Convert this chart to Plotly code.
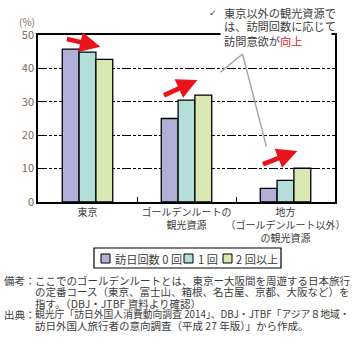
import plotly.graph_objects as go

# Share of visitors wanting to visit, by number of previous visits to Japan (%)
categories = ["東京", "ゴールデンルートの<br>観光資源", "地方<br>（ゴールデンルート以外）<br>の観光資源"]
series_names = ["訪日回数 0 回", "1 回", "2 回以上"]
visits_0 = [45.8, 25.0, 4.1]
visits_1 = [44.9, 30.5, 6.5]
visits_2plus = [42.7, 32.0, 10.1]
series_colors = ["#b1afd7", "#b3ddd8", "#d8e8b0"]
y_ticks = [0, 10, 20, 30, 40, 50]

W, H = 358, 346
L, R, T, B = 38, 23, 35, 144
PW, PH = W - L - R, H - T - B

def px(x):
    return (x - L) / PW

def py(y):
    return (H - B - y) / PH

FONT = "Noto Sans CJK JP"
TXT = "#3c3c3c"
TICK = "#7d6c5c"
RED = "#e8131c"

fig = go.Figure()
for name, vals, col in zip(series_names, [visits_0, visits_1, visits_2plus], series_colors):
    fig.add_trace(go.Bar(
        x=categories, y=vals, name=name,
        marker=dict(color=col, line=dict(color="black", width=1.3)),
    ))

annotations = []
shapes = []

def label(x, y, text, size, color=TXT, anchor="left", family=FONT):
    annotations.append(dict(
        x=px(x), y=py(y), xref="paper", yref="paper", xanchor=anchor, yanchor="middle",
        text=text, showarrow=False, font=dict(family=family, size=size, color=color),
    ))

# red trend arrows above each group: head position (category index, value) and tail offset in px
arrows = [
    (0.13, 46.5, -35, -8),
    (1.11, 36.5, -35, 16),
    (2.12, 15.3, -36, 14),
]
for x1, y1, dx, dy in arrows:
    annotations.append(dict(
        x=x1, y=y1, ax=dx, ay=dy, xref="x", yref="y",
        text="", showarrow=True, arrowhead=2, arrowsize=0.85, arrowwidth=4.8,
        arrowcolor=RED,
    ))

# callout: white patch over the frame, then the three text lines
annotations.append(dict(
    x=px(220), y=py(28), xref="paper", yref="paper", xanchor="left", yanchor="top",
    text=" ", width=110, height=22, bgcolor="white", borderpad=0, showarrow=False,
))
label(222, 13, "東京以外の観光資源で", 11.2)
label(222, 26, "は、訪問回数に応じて", 11.2)
label(222, 41, "訪問意欲が<span style='color:%s'>向上</span>" % RED, 11.2)
label(219, 13, "✓", 9, family="DejaVu Sans", anchor="right")
shapes.append(dict(type="line", xref="paper", yref="paper",
                   x0=px(276), x1=px(303), y0=py(48.5), y1=py(48.5),
                   line=dict(color=RED, width=1.2)))

# percent label
label(37, 22, "(%)", 10, color=TICK, anchor="right")

# footnotes
note_heads = [(280, "備考："), (314, "出典：")]
note_lines = [
    (280, "ここでのゴールデンルートとは、東京ー大阪間を周遊する日本旅行", 10.5),
    (291.5, "の定番コース（東京、富士山、箱根、名古屋、京都、大阪など）を", 10.5),
    (303, "指す。（DBJ・JTBF 資料より確認）", 10.5),
    (314, "観光庁「訪日外国人消費動向調査 2014」、DBJ・JTBF「アジア８地域・", 9.8),
    (325.5, "訪日外国人旅行者の意向調査（平成 27 年版）」から作成。", 10.5),
]
for y, t in note_heads:
    label(2, y, t, 10.5)
for y, t, s in note_lines:
    label(33, y, t, s)

# legend box with swatches
shapes.append(dict(type="rect", xref="paper", yref="paper",
                   x0=px(94), x1=px(281), y0=py(248), y1=py(268),
                   line=dict(color="black", width=1.2), fillcolor="white"))
legend_pos = [(101, 113), (184, 196), (223, 234)]
for (sx, tx), name, col in zip(legend_pos, series_names, series_colors):
    shapes.append(dict(type="rect", xref="paper", yref="paper",
                       x0=px(sx), x1=px(sx + 9), y0=py(254), y1=py(263),
                       line=dict(color="black", width=1), fillcolor=col))
    label(tx, 259, name, 11.2)

# gray callout pointer
shapes += [
    dict(type="line", xref="x", yref="y", x0=1.343, y0=38.9, x1=1.566, y1=44.3,
         line=dict(color="#a8a8a8", width=1.5)),
    dict(type="line", xref="x", yref="y", x0=1.566, y0=44.3, x1=1.808, y1=16.5,
         line=dict(color="#a8a8a8", width=1.5)),
]

fig.update_layout(
    width=W, height=H,
    margin=dict(l=L, r=R, t=T, b=B),
    paper_bgcolor="white", plot_bgcolor="white",
    barmode="group", bargap=0.49, bargroupgap=0,
    font=dict(family=FONT, size=10.5, color=TXT),
    showlegend=False,
    annotations=annotations,
    shapes=shapes,
    xaxis=dict(
        showline=True, linecolor="black", linewidth=1.5, mirror=True,
        ticks="inside", ticklen=5, tickcolor="black", tickwidth=1,
        tickson="boundaries", showgrid=False, tickangle=0, automargin=False,
        tickfont=dict(family=FONT, size=10, color=TXT),
    ),
    yaxis=dict(
        range=[0, 50], tickvals=y_ticks, automargin=False,
        showline=True, linecolor="black", linewidth=1.5, mirror=True,
        ticks="", showgrid=True, gridcolor="black", gridwidth=1,
        griddash="9px,2px,3px,2px,3px,2px",
        tickfont=dict(family=FONT, size=11, color=TICK),
        zeroline=False,
    ),
)

fig.write_html("out.html")
